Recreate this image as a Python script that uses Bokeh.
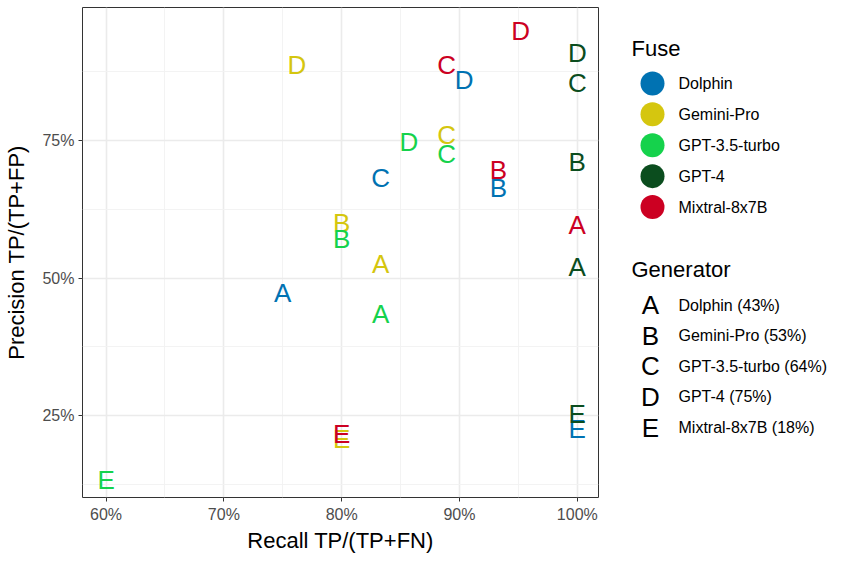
from bokeh.plotting import figure
from bokeh.layouts import row
from bokeh.models import ColumnDataSource, Range1d, FixedTicker, PrintfTickFormatter
from bokeh.core.properties import value
from bokeh.embed import file_html
from bokeh.resources import INLINE

FONT = "Liberation Sans"

fuse_models = ["Dolphin", "Gemini-Pro", "GPT-3.5-turbo", "GPT-4", "Mixtral-8x7B"]
fuse_colors = ["#0072B2", "#D5C60F", "#15D24C", "#0B4D1E", "#CC0022"]
generator_letters = ["A", "B", "C", "D", "E"]
generator_names = ["Dolphin (43%)", "Gemini-Pro (53%)", "GPT-3.5-turbo (64%)", "GPT-4 (75%)", "Mixtral-8x7B (18%)"]

# recall / precision (%) per fuse model, for generators A..E
recall_dolphin = [75.0, 93.3, 83.3, 90.4, 100.0]
precision_dolphin = [47.2, 66.4, 68.2, 86.1, 22.5]
recall_gemini = [83.3, 80.0, 88.9, 76.2, 80.0]
precision_gemini = [52.5, 60.0, 76.0, 88.7, 20.8]
recall_gpt35 = [83.3, 80.0, 88.9, 85.7, 60.0]
precision_gpt35 = [43.5, 57.1, 72.5, 74.8, 13.3]
recall_gpt4 = [100.0, 100.0, 100.0, 100.0, 100.0]
precision_gpt4 = [52.1, 71.1, 85.5, 91.0, 25.2]
recall_mixtral = [100.0, 93.3, 88.9, 95.2, 80.0]
precision_mixtral = [59.7, 69.7, 88.7, 95.0, 21.7]

x_ticks = [60, 70, 80, 90, 100]
x_minor = [65, 75, 85, 95]
y_ticks = [25, 50, 75]
y_minor = [12.5, 37.5, 62.5, 87.5]

recalls = [recall_dolphin, recall_gemini, recall_gpt35, recall_gpt4, recall_mixtral]
precisions = [precision_dolphin, precision_gemini, precision_gpt35, precision_gpt4, precision_mixtral]

xs, ys, letters, colors = [], [], [], []
for fi in range(len(fuse_models)):
    for gi in range(len(generator_letters)):
        xs.append(recalls[fi][gi])
        ys.append(precisions[fi][gi])
        letters.append(generator_letters[gi])
        colors.append(fuse_colors[fi])
src = ColumnDataSource(dict(x=xs, y=ys, t=letters, c=colors))

p = figure(width=608, height=555, output_backend="svg", toolbar_location=None,
           x_range=Range1d(58.0, 101.8), y_range=Range1d(10.1, 99.2),
           min_border_left=82, min_border_right=10, min_border_top=7, min_border_bottom=53)
p.outline_line_color = "#333333"
p.outline_line_width = 1
p.background_fill_color = "white"
p.border_fill_color = "white"

p.xaxis.ticker = FixedTicker(ticks=x_ticks, minor_ticks=x_minor)
p.yaxis.ticker = FixedTicker(ticks=y_ticks, minor_ticks=y_minor)
for ax in (p.xaxis, p.yaxis):
    ax.formatter = PrintfTickFormatter(format="%d%%")
    ax.axis_line_color = None
    ax.major_tick_line_color = "#333333"
    ax.major_tick_out = 4
    ax.major_tick_in = 0
    ax.minor_tick_line_color = None
    ax.major_label_text_font = FONT
    ax.major_label_text_font_size = "16px"
    ax.major_label_text_color = "#4D4D4D"
    ax.axis_label_text_font = FONT
    ax.axis_label_text_font_size = "22px"
    ax.axis_label_text_font_style = "normal"
    ax.axis_label_text_color = "black"
p.xaxis.axis_label = "Recall TP/(TP+FN)"
p.yaxis.axis_label = "Precision TP/(TP+FP)"
p.xaxis.major_label_standoff = 4
p.yaxis.major_label_standoff = 4
p.xaxis.axis_label_standoff = 2
p.yaxis.axis_label_standoff = 10

for g in (p.xgrid, p.ygrid):
    g.grid_line_color = "#EBEBEB"
    g.grid_line_width = 1.6
    g.minor_grid_line_color = "#F2F2F2"
    g.minor_grid_line_width = 0.9

p.text(x="x", y="y", text="t", source=src, text_color="c",
       text_font=value(FONT), text_font_size="26px",
       text_align="center", text_baseline="middle")

# legend panel (coordinates in pixels, y downward)
lg = figure(width=232, height=555, output_backend="svg", toolbar_location=None,
            x_range=Range1d(0, 232), y_range=Range1d(555, 0),
            min_border=0, min_border_left=0, min_border_right=0,
            min_border_top=0, min_border_bottom=0)
lg.axis.visible = False
lg.grid.visible = False
lg.outline_line_color = None

lg.text(x=[23], y=[47], text=["Fuse"], text_font=value(FONT), text_font_size="22px",
        text_align="left", text_baseline="middle", text_color="black")
fy = [86 + 35 * i for i in range(len(fuse_models))]
lg.scatter(x=[44] * len(fuse_models), y=fy, size=24, color=fuse_colors, line_color=None)
lg.text(x=[70] * len(fuse_models), y=fy, text=fuse_models, text_font=value(FONT),
        text_font_size="16px", text_align="left", text_baseline="middle", text_color="black")

lg.text(x=[23], y=[297], text=["Generator"], text_font=value(FONT), text_font_size="22px",
        text_align="left", text_baseline="middle", text_color="black")
gy = [337 + 34.7 * i for i in range(len(generator_letters))]
lg.text(x=[42] * len(generator_letters), y=gy, text=generator_letters, text_font=value(FONT),
        text_font_size="26px", text_align="center", text_baseline="middle", text_color="black")
lg.text(x=[70] * len(generator_names), y=gy, text=generator_names, text_font=value(FONT),
        text_font_size="16px", text_align="left", text_baseline="middle", text_color="black")

layout = row(p, lg)
open("out.html", "w").write(file_html(layout, INLINE))
